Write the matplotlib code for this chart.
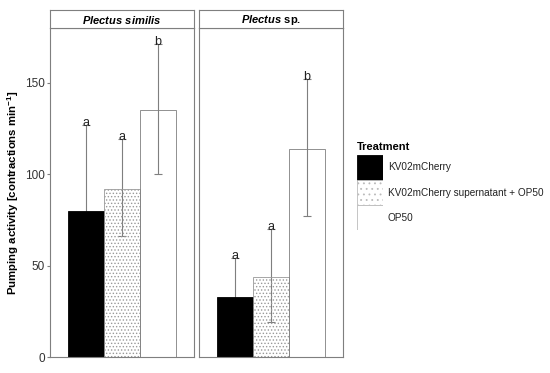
import matplotlib.pyplot as plt
from matplotlib.patches import Rectangle
import numpy as np

plt.rcParams['font.family'] = ['Liberation Sans', 'DejaVu Sans']
plt.rcParams['mathtext.fontset'] = 'custom'
plt.rcParams['mathtext.it'] = 'Liberation Sans:italic:bold'
plt.rcParams['mathtext.bf'] = 'Liberation Sans:bold'
plt.rcParams['mathtext.rm'] = 'Liberation Sans'
plt.rcParams['hatch.color'] = '#777777'
plt.rcParams['hatch.linewidth'] = 0.6

treatments = ['KV02mCherry', 'KV02mCherry supernatant + OP50', 'OP50']
species = ['similis', 'sp']
means = {'similis': [80, 92, 135], 'sp': [33, 44, 114]}
lower = {'similis': [33, 66, 100], 'sp': [12, 19, 77]}
upper = {'similis': [127, 119, 171], 'sp': [54, 70, 152]}
letters = {'similis': ['a', 'a', 'b'], 'sp': ['a', 'a', 'b']}
titles = {'similis': r'$\it{Plectus\ similis}$', 'sp': r'$\it{Plectus}\ \bf{sp.}$'}

fills = ['black', 'none', 'none']
hatches = [None, '.....', None]
edge = '#7f7f7f'

fig = plt.figure(figsize=(5.5, 3.73), dpi=100)
lefts = [50 / 550, 199 / 550]
w = 144 / 550
bot = 1 - 357 / 373
top = 1 - 28 / 373
for i, sp in enumerate(species):
    ax = fig.add_axes([lefts[i], bot, w, top - bot])
    x = np.arange(3)
    err = [np.array(means[sp]) - np.array(lower[sp]), np.array(upper[sp]) - np.array(means[sp])]
    ax.errorbar(x, means[sp], yerr=err, fmt='none', ecolor=edge, elinewidth=0.8,
                capsize=3, capthick=0.8, zorder=1)
    for j in range(3):
        ax.bar(x[j], means[sp][j], width=1.0, color=fills[j], hatch=hatches[j],
               edgecolor='black' if j == 0 else ('#999999' if j == 1 else edge),
               linewidth=0.6, zorder=2)
    for j in range(3):
        ax.text(x[j], upper[sp][j] - 2, letters[sp][j], ha='center', va='bottom',
                fontsize=9, color='#222222', zorder=4)
    ax.set_xlim(-1, 3)
    ax.set_ylim(0, 180)
    ax.set_xticks([])
    for s in ax.spines.values():
        s.set_color(edge)
        s.set_linewidth(0.8)
    if i == 0:
        ax.set_yticks([0, 50, 100, 150])
        ax.tick_params(axis='y', length=2.2, color=edge, labelsize=8.5, labelcolor='#333333', pad=1.5)
        ax.set_ylabel(r'Pumping activity [contractions min$^{\bf{-1}}$]',
                      fontsize=8.2, fontweight='bold', labelpad=3)
    else:
        ax.set_yticks([])
    # strip
    st = fig.add_axes([lefts[i], top, w, 18 / 373])
    st.set_xticks([])
    st.set_yticks([])
    for s in st.spines.values():
        s.set_color(edge)
        s.set_linewidth(0.8)
    st.text(0.5, 0.45, titles[sp], ha='center', va='center', fontsize=8)

# legend
fig.text(357 / 550, 1 - 147 / 373, 'Treatment', fontsize=8, fontweight='bold', va='center')
lg = fig.add_axes([357 / 550, 1 - 230 / 373, 26 / 550, 75 / 373])
lg.set_xlim(0, 1)
lg.set_ylim(0, 3)
lg.axis('off')
for j in range(3):
    lg.add_patch(Rectangle((0, 2 - j), 1, 1, facecolor='black' if j == 0 else 'white',
                           hatch=('...' if hatches[j] else None),
                           edgecolor='black' if j == 0 else '#bbbbbb', linewidth=0.6))
    fig.text(388 / 550, 1 - (167.5 + 25 * j) / 373, treatments[j], fontsize=7.2, va='center',
             color='#222222')

fig.savefig('out.png', dpi=100)
